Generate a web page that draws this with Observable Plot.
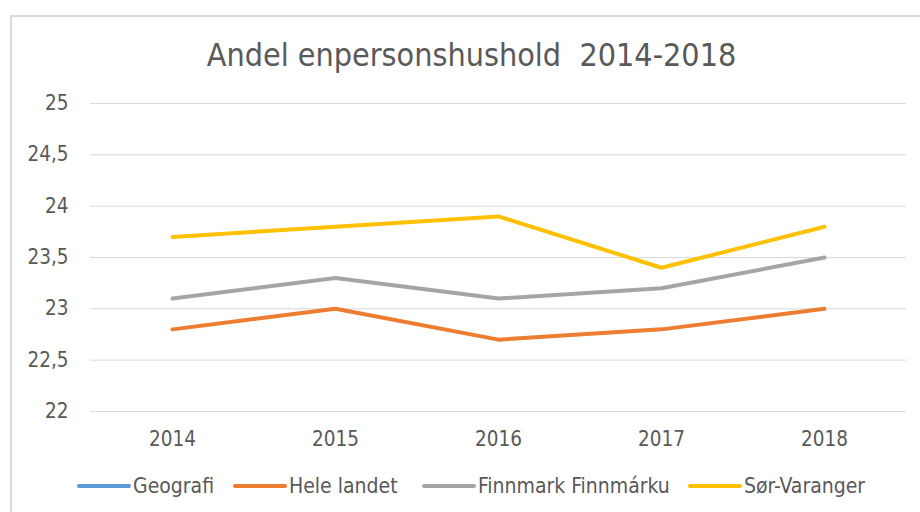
<!DOCTYPE html>
<html>
<head>
<meta charset="utf-8">
<script src="https://cdn.jsdelivr.net/npm/d3@7"></script>
<script src="https://cdn.jsdelivr.net/npm/@observablehq/plot@0.6"></script>
<style>
  body { margin: 0; background: #fff; width: 920px; height: 512px; overflow: hidden; position: relative; font-family: "Liberation Sans Narrow", "DejaVu Sans Condensed", sans-serif; }
  #frame { position: absolute; left: 10px; top: 15px; width: 920px; height: 520px; border: 2px solid #d9d9d9; box-sizing: border-box; }
  #title { position: absolute; left: 0; width: 943px; top: 36px; text-align: center; font-size: 32px; color: #595959; white-space: nowrap; }
  #chart { position: absolute; left: 0; top: 0; }
  .leg { position: absolute; top: 474px; font-size: 21px; color: #595959; display: flex; align-items: center; white-space: nowrap; }
  .sw { display: inline-block; width: 54px; height: 4px; border-radius: 2px; margin-right: 2px; }
</style>
</head>
<body>
<div id="frame"></div>
<div id="title">Andel enpersonshushold&nbsp; 2014-2018</div>
<div id="chart"></div>
<div id="legend"></div>
<script>
const years = ["2014", "2015", "2016", "2017", "2018"];
const seriesNames = ["Geografi", "Hele landet", "Finnmark Finnmárku", "Sør-Varanger"];
const seriesColors = ["#5B9BD5", "#ED7D31", "#A5A5A5", "#FFC000"];
const heleLandet = [22.8, 23.0, 22.7, 22.8, 23.0];
const finnmark = [23.1, 23.3, 23.1, 23.2, 23.5];
const sorVaranger = [23.7, 23.8, 23.9, 23.4, 23.8];
const yTicks = [22, 22.5, 23, 23.5, 24, 24.5, 25];

const rows = [];
[[seriesNames[1], heleLandet], [seriesNames[2], finnmark], [seriesNames[3], sorVaranger]].forEach(([name, vals]) => {
  vals.forEach((v, i) => rows.push({series: name, year: years[i], value: v}));
});

const fmt = d => String(d).replace(".", ",");

const plot = Plot.plot({
  width: 920,
  height: 460,
  marginLeft: 90,
  marginRight: 14,
  marginTop: 103,
  marginBottom: 49,
  style: {fontFamily: '"Liberation Sans Narrow", "DejaVu Sans Condensed", sans-serif', background: "transparent", overflow: "visible"},
  x: {type: "point", domain: years, padding: 0.5},
  y: {domain: [22, 25]},
  color: {domain: seriesNames, range: seriesColors},
  marks: [
    Plot.gridY(yTicks, {stroke: "#d9d9d9", strokeOpacity: 1, strokeWidth: 1}),
    Plot.axisY(yTicks, {tickSize: 0, tickPadding: 22, tickFormat: fmt, fontSize: 20.5, fill: "#595959", label: null}),
    Plot.axisX({tickSize: 0, tickPadding: 20, fontSize: 20.5, fill: "#595959", label: null}),
    Plot.line(rows, {x: "year", y: "value", z: "series", stroke: "series", strokeWidth: 4, strokeLinecap: "round", strokeLinejoin: "round"})
  ]
});
document.getElementById("chart").appendChild(plot);

const legendX = [77, 233, 422, 688];
const legend = document.getElementById("legend");
seriesNames.forEach((name, i) => {
  const item = document.createElement("div");
  item.className = "leg";
  item.style.left = legendX[i] + "px";
  const sw = document.createElement("span");
  sw.className = "sw";
  sw.style.background = seriesColors[i];
  item.appendChild(sw);
  item.appendChild(document.createTextNode(name));
  legend.appendChild(item);
});
</script>
</body>
</html>
